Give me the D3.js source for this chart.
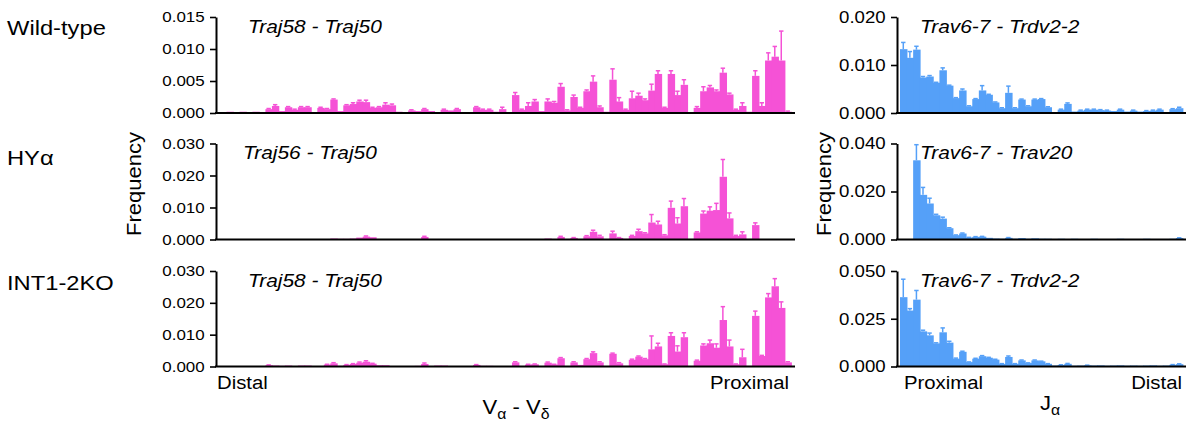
<!DOCTYPE html>
<html>
<head>
<meta charset="utf-8">
<script src="https://cdn.jsdelivr.net/npm/d3@7"></script>
<style>
  body { margin: 0; background: #fff; }
  svg { display: block; font-family: "Liberation Sans", Arial, sans-serif; }
</style>
</head>
<body>
<div id="container"></div>
<script>
// ---- data: frequency per gene segment (mean) and SEM ----
// V alpha - V delta segments, distal -> proximal (88 bins)
const wtVa = [0.0001,0.0002,0.0001,0.0002,0.0001,0.0002,0.0001,0.0006,0.0011,0.0003,
  0.0009,0.0005,0.0009,0.0009,0.0001,0.0008,0.0006,0.0021,0.0003,0.0012,
  0.0014,0.0018,0.0017,0.0008,0.0009,0.0013,0.0012,0.0002,0.0001,0.0004,
  0.0003,0.0006,0.0003,0.0001,0.0005,0.0004,0.0006,0.0001,0.0001,0.0009,
  0.0005,0.0005,0.0002,0.0006,0.0001,0.0028,0.0005,0.0011,0.0018,0.0003,
  0.0018,0.0016,0.0041,0.0004,0.0025,0.0008,0.0034,0.0049,0.0009,0.0002,
  0.0052,0.0018,0.0005,0.0023,0.0027,0.0020,0.0035,0.0061,0.0008,0.0061,
  0.0028,0.0044,0.0001,0.0008,0.0034,0.0040,0.0034,0.0063,0.0029,0.0005,
  0.0011,0.0002,0.0058,0.0011,0.0082,0.0088,0.0082,0.0002];
const wtVaSem = [0,0,0,0,0,0,0,0.0001,0.0002,0,
  0.0001,0.0001,0.0001,0.0001,0,0.0001,0.0001,0.0001,0,0.0001,
  0.0002,0.0002,0.0003,0.0001,0.0001,0.0003,0.0002,0,0,0.0001,
  0,0.0001,0,0,0.0001,0,0.0001,0,0,0.0001,
  0.0001,0.0001,0,0.0003,0,0.0004,0.0001,0.0005,0.0003,0,
  0.0004,0.0002,0.0005,0.0001,0.0003,0.0001,0.0002,0.0009,0.0002,0,
  0.0017,0.0006,0.0001,0.0011,0.0004,0.0002,0.0010,0.0005,0.0001,0.0005,
  0.0006,0.0008,0,0.0002,0.0007,0.0003,0.0002,0.0007,0.0002,0.0001,
  0.0005,0,0.0008,0.0005,0.0012,0.0016,0.0046,0.0001];

const hyVa = [0,0,0.0001,0,0,0,0,0,0,0,
  0,0,0,0,0,0,0,0.0003,0.0002,0.0002,
  0.0003,0.0006,0.0009,0.0007,0.0001,0.0001,0,0,0,0,
  0.0001,0.0008,0.0001,0,0,0,0,0,0,0,
  0,0,0,0,0,0.0001,0,0,0.0001,0,
  0.0003,0.0001,0.0008,0.0001,0.0005,0.0001,0.0010,0.0024,0.0010,0.0001,
  0.0019,0.0005,0.0002,0.0011,0.0026,0.0019,0.0053,0.0047,0.0013,0.0099,
  0.0050,0.0104,0.0002,0.0022,0.0081,0.0090,0.0092,0.0196,0.0066,0.0011,
  0.0016,0.0002,0.0045,0.0001,0,0,0,0];
const hyVaSem = [0,0,0,0,0,0,0,0,0,0,
  0,0,0,0,0,0,0,0,0,0,
  0,0,0.0002,0,0,0,0,0,0,0,
  0,0.0002,0,0,0,0,0,0,0,0,
  0,0,0,0,0,0,0,0,0,0,
  0,0,0.0002,0,0.0001,0,0.0002,0.0005,0.0003,0,
  0.0007,0.0001,0,0.0002,0.0006,0.0002,0.0025,0.0010,0.0002,0.0021,
  0.0018,0.0024,0,0.0002,0.0008,0.0012,0.0021,0.0054,0.0017,0.0002,
  0.0008,0,0.0007,0,0,0,0,0];

const koVa = [0.0001,0.0001,0.0001,0.0001,0.0001,0.0001,0.0001,0.0004,0.0003,0.0002,
  0.0003,0.0001,0.0003,0.0003,0.0001,0.0001,0.0006,0.0010,0.0002,0.0005,
  0.0008,0.0012,0.0015,0.0009,0.0004,0.0004,0.0001,0.0001,0.0001,0.0001,
  0.0002,0.0008,0.0001,0.0003,0.0003,0.0001,0.0001,0.0001,0.0001,0.0005,
  0.0002,0.0002,0.0001,0.0001,0.0001,0.0013,0.0001,0.0006,0.0007,0.0001,
  0.0012,0.0006,0.0026,0.0001,0.0013,0.0005,0.0023,0.0042,0.0013,0.0001,
  0.0040,0.0010,0.0002,0.0021,0.0031,0.0023,0.0054,0.0063,0.0007,0.0096,
  0.0047,0.0092,0.0001,0.0018,0.0066,0.0073,0.0059,0.0146,0.0063,0.0007,
  0.0029,0.0002,0.0159,0.0033,0.0217,0.0252,0.0184,0.0013];
const koVaSem = [0,0,0,0,0,0,0,0.0001,0,0,
  0,0,0,0,0,0,0.0001,0.0002,0,0.0001,
  0.0001,0.0002,0.0003,0.0001,0,0,0,0,0,0,
  0,0.0003,0,0,0,0,0,0,0,0.0001,
  0,0,0,0,0,0.0002,0,0.0001,0.0001,0,
  0.0002,0.0001,0.0002,0,0.0002,0,0.0002,0.0004,0.0002,0,
  0.0002,0.0002,0,0.0002,0.0002,0.0002,0.0042,0.0010,0.0001,0.0010,
  0.0018,0.0014,0,0.0002,0.0005,0.0010,0.0012,0.0042,0.0020,0.0001,
  0.0025,0,0.0015,0.0002,0.0012,0.0024,0.0019,0.0002];

// J alpha segments, proximal -> distal (43 bins)
const wtJa = [0.0133,0.0115,0.0132,0.0074,0.0076,0.0063,0.0089,0.0057,0.0031,0.0047,
  0.0014,0.0029,0.0047,0.0038,0.0022,0.0010,0.0042,0.0010,0.0028,0.0014,
  0.0028,0.0029,0.0012,0.0002,0.0007,0.0019,0.0003,0.0005,0.0007,0.0007,
  0.0006,0.0005,0.0004,0.0007,0.0003,0.0005,0.0003,0.0004,0.0005,0.0007,
  0.0002,0.0008,0.0010];
const wtJaSem = [0.0014,0.0013,0.0007,0.0002,0.0002,0.0001,0.0005,0.0001,0.0001,0.0003,
  0.0001,0.0001,0.0010,0.0001,0.0001,0.0001,0.0014,0.0001,0.0001,0.0001,
  0.0001,0.0001,0.0001,0,0.0001,0.0002,0,0.0001,0.0001,0.0001,
  0.0001,0.0001,0,0.0001,0,0.0001,0,0.0001,0.0001,0.0001,
  0,0.0001,0.0002];

const hyJa = [0,0,0.0330,0.0186,0.0150,0.0101,0.0087,0.0047,0.0018,0.0025,
  0.0008,0.0011,0.0012,0.0007,0.0004,0.0003,0.0007,0.0003,0.0006,0.0003,
  0.0005,0.0003,0.0003,0.0002,0.0003,0.0002,0.0003,0.0002,0.0002,0.0003,
  0.0002,0.0002,0.0002,0.0003,0.0002,0.0002,0.0002,0.0003,0.0002,0.0002,
  0.0002,0.0003,0.0006];
const hyJaSem = [0,0,0.0065,0.0031,0.0022,0.0004,0.0006,0.0002,0.0001,0.0002,
  0.0001,0.0001,0.0001,0,0,0,0.0001,0,0,0,
  0,0,0,0,0,0,0,0,0,0,
  0,0,0,0,0,0,0,0,0,0,
  0,0,0.0001];

const koJa = [0.0363,0.0293,0.0350,0.0184,0.0163,0.0121,0.0179,0.0125,0.0041,0.0077,
  0.0023,0.0041,0.0054,0.0046,0.0036,0.0014,0.0050,0.0014,0.0032,0.0018,
  0.0032,0.0027,0.0014,0.0005,0.0008,0.0014,0.0004,0.0005,0.0006,0.0005,
  0.0006,0.0004,0.0005,0.0006,0.0004,0.0005,0.0004,0.0005,0.0006,0.0004,
  0.0005,0.0009,0.0012];
const koJaSem = [0.0094,0.0010,0.0048,0.0006,0.0012,0.0003,0.0023,0.0007,0.0003,0.0003,
  0.0001,0.0002,0.0003,0.0002,0.0002,0.0001,0.0005,0.0001,0.0002,0.0001,
  0.0002,0.0001,0.0001,0,0.0001,0.0002,0,0,0.0001,0,
  0,0,0,0,0,0,0,0,0,0,
  0,0.0001,0.0002];

const rowLabels = ["Wild-type", "HY\u03b1", "INT1-2KO"];
const leftTitles = ["Traj58 - Traj50", "Traj56 - Traj50", "Traj58 - Traj50"];
const rightTitles = ["Trav6-7 - Trdv2-2", "Trav6-7 - Trav20", "Trav6-7 - Trdv2-2"];
const leftTicks = [[0, 0.005, 0.010, 0.015], [0, 0.01, 0.02, 0.03], [0, 0.01, 0.02, 0.03]];
const rightTicks = [[0, 0.01, 0.02], [0, 0.02, 0.04], [0, 0.025, 0.05]];

// ---- layout ----
const W = 1188, H = 423;
const SX = 1.13;   // source lettering is a bit wider than Arial
const PINK = "#f552d6", BLUE = "#55a0f8";

const svg = d3.select("#container").append("svg")
  .attr("width", W).attr("height", H);
svg.append("rect").attr("width", W).attr("height", H).attr("fill", "#fff");

const rows = [
  { top: 17, base: 113 },
  { top: 143.5, base: 239.5 },
  { top: 271, base: 366.5 }
];
const leftCol = { axis: [216, 795], bars: [220, 791], color: PINK, tickFont: 15, titleX: [248, 243, 248] };
const rightCol = { axis: [897, 1186], bars: [900, 1182.5], color: BLUE, tickFont: 16.5, titleX: [920, 920, 920] };

// text wrapped in a group so it can be stretched horizontally
function addText(x, y, size, opts = {}) {
  const g = svg.append("g")
    .attr("transform", `translate(${x},${y}) rotate(${opts.rotate || 0}) scale(${SX},1)`);
  return g.append("text")
    .attr("font-size", size)
    .attr("text-anchor", opts.anchor || "start")
    .attr("font-style", opts.italic ? "italic" : "normal")
    .attr("fill", "#000");
}

function drawPanel(col, row, values, sems, ticks, title, titleX) {
  const x = d3.scaleBand()
    .domain(d3.range(values.length))
    .range(col.bars)
    .padding(0);
  const y = d3.scaleLinear()
    .domain([0, ticks[ticks.length - 1]])
    .range([row.base, row.top]);

  const g = svg.append("g");

  // bars (slight overlap so neighbours don't show seams)
  g.selectAll("rect")
    .data(values)
    .join("rect")
    .attr("x", (d, i) => x(i))
    .attr("width", x.bandwidth() + 0.9)
    .attr("y", d => y(d))
    .attr("height", d => row.base - y(d))
    .attr("fill", col.color);

  // error bars (upper only)
  const errs = values.map((v, i) => ({ i, v, s: sems[i] })).filter(d => d.s > 0);
  const cx = d => x(d.i) + x.bandwidth() / 2;
  g.selectAll("line.stem")
    .data(errs)
    .join("line")
    .attr("class", "stem")
    .attr("x1", cx).attr("x2", cx)
    .attr("y1", d => y(d.v)).attr("y2", d => y(d.v + d.s))
    .attr("stroke", col.color)
    .attr("stroke-width", 1.5);
  g.selectAll("line.cap")
    .data(errs)
    .join("line")
    .attr("class", "cap")
    .attr("x1", d => cx(d) - 2.2).attr("x2", d => cx(d) + 2.2)
    .attr("y1", d => y(d.v + d.s)).attr("y2", d => y(d.v + d.s))
    .attr("stroke", col.color)
    .attr("stroke-width", 1.5);

  // y axis
  const ax = svg.append("g")
    .attr("transform", `translate(${col.axis[0]},0)`)
    .call(d3.axisLeft(y).tickValues(ticks).tickFormat(d3.format(".3f"))
      .tickSize(6).tickSizeOuter(0).tickPadding(4));
  ax.attr("font-family", null).attr("font-size", null);
  ax.select(".domain").attr("stroke-width", 2);
  ax.selectAll(".tick line").attr("stroke-width", 1.6);
  ax.selectAll(".tick text")
    .attr("font-size", col.tickFont)
    .attr("fill", "#000")
    .attr("transform", `scale(${SX},1)`);

  // x baseline
  svg.append("line")
    .attr("x1", col.axis[0] - 1).attr("x2", col.axis[1])
    .attr("y1", row.base).attr("y2", row.base)
    .attr("stroke", "#000")
    .attr("stroke-width", 2);

  // panel title
  addText(titleX, row.top + 15.5, 18.5, { italic: true }).text(title);
}

const leftData = [[wtVa, wtVaSem], [hyVa, hyVaSem], [koVa, koVaSem]];
const rightData = [[wtJa, wtJaSem], [hyJa, hyJaSem], [koJa, koJaSem]];

rows.forEach((row, r) => {
  drawPanel(leftCol, row, leftData[r][0], leftData[r][1], leftTicks[r], leftTitles[r], leftCol.titleX[r]);
  drawPanel(rightCol, row, rightData[r][0], rightData[r][1], rightTicks[r], rightTitles[r], rightCol.titleX[r]);
});

// row labels
const rowLabelY = [35, 165, 290];
rowLabels.forEach((t, r) => addText(7, rowLabelY[r], 21).text(t));

// Frequency labels
addText(141, 184, 19.5, { rotate: -90, anchor: "middle" }).text("Frequency");
addText(831, 184, 19.5, { rotate: -90, anchor: "middle" }).text("Frequency");

// distal / proximal
addText(217, 389, 18).text("Distal");
addText(789, 389, 18, { anchor: "end" }).text("Proximal");
addText(904, 389, 18).text("Proximal");
addText(1182, 389, 18, { anchor: "end" }).text("Distal");

// axis titles with subscripts
const va = addText(516, 414, 19.5, { anchor: "middle" });
va.append("tspan").text("V");
va.append("tspan").attr("font-size", 14).attr("dy", 5).text("\u03b1");
va.append("tspan").attr("dy", -5).text(" - V");
va.append("tspan").attr("font-size", 14).attr("dy", 5).text("\u03b4");

const ja = addText(1050, 410, 19.5, { anchor: "middle" });
ja.append("tspan").text("J");
ja.append("tspan").attr("font-size", 14).attr("dy", 5).text("\u03b1");
</script>
</body>
</html>
